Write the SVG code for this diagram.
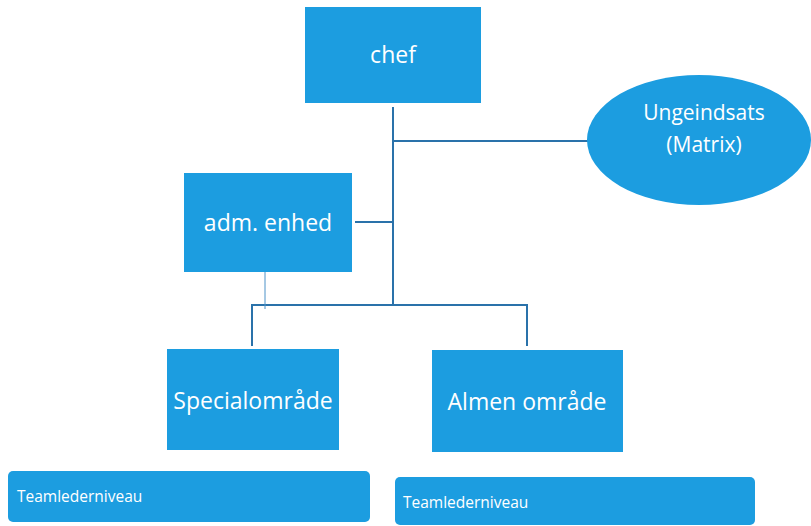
<svg xmlns="http://www.w3.org/2000/svg" width="811" height="526" viewBox="0 0 811 526">
<style>
.box{fill:#1c9de0}
.t{fill:#ffffff;font-family:"Open Sans","Liberation Sans",sans-serif;font-size:23px;text-anchor:middle;dominant-baseline:central}
.s{fill:#ffffff;font-family:"Open Sans","Liberation Sans",sans-serif;font-size:15.5px;dominant-baseline:central}
.c{stroke:#2a72aa;stroke-width:2;fill:none}
.c1{stroke:#4d92c8;stroke-width:1;fill:none}
</style>
<rect width="811" height="526" fill="#ffffff"/>
<g id="connectors">
<path class="c" d="M393,107 V305"/>
<path class="c" d="M393,141 H590"/>
<path class="c" d="M355,222 H393"/>
<path class="c" d="M252,346 V305 H527 V346"/>
<path class="c1" d="M265,272 V309"/>
</g>
<g id="chef"><rect class="box" x="305" y="7" width="176" height="96"/><text class="t" x="393" y="54">chef</text></g>
<g id="ungeindsats"><ellipse class="box" cx="699" cy="140" rx="112" ry="65"/><text class="t" x="704" y="112" style="font-size:21px">Ungeindsats</text><text class="t" x="704" y="144" style="font-size:21px">(Matrix)</text></g>
<g id="adm"><rect class="box" x="184" y="173" width="168" height="99"/><text class="t" x="268" y="222">adm. enhed</text></g>
<g id="special"><rect class="box" x="167" y="349" width="172" height="101"/><text class="t" x="253" y="400">Specialområde</text></g>
<g id="almen"><rect class="box" x="432" y="350" width="191" height="102"/><text class="t" x="527" y="401">Almen område</text></g>
<g id="team1"><rect class="box" x="8" y="471" width="362" height="51" rx="5"/><text class="s" x="17" y="496">Teamlederniveau</text></g>
<g id="team2"><rect class="box" x="395" y="477" width="360" height="48" rx="5"/><text class="s" x="403" y="502">Teamlederniveau</text></g>
</svg>
